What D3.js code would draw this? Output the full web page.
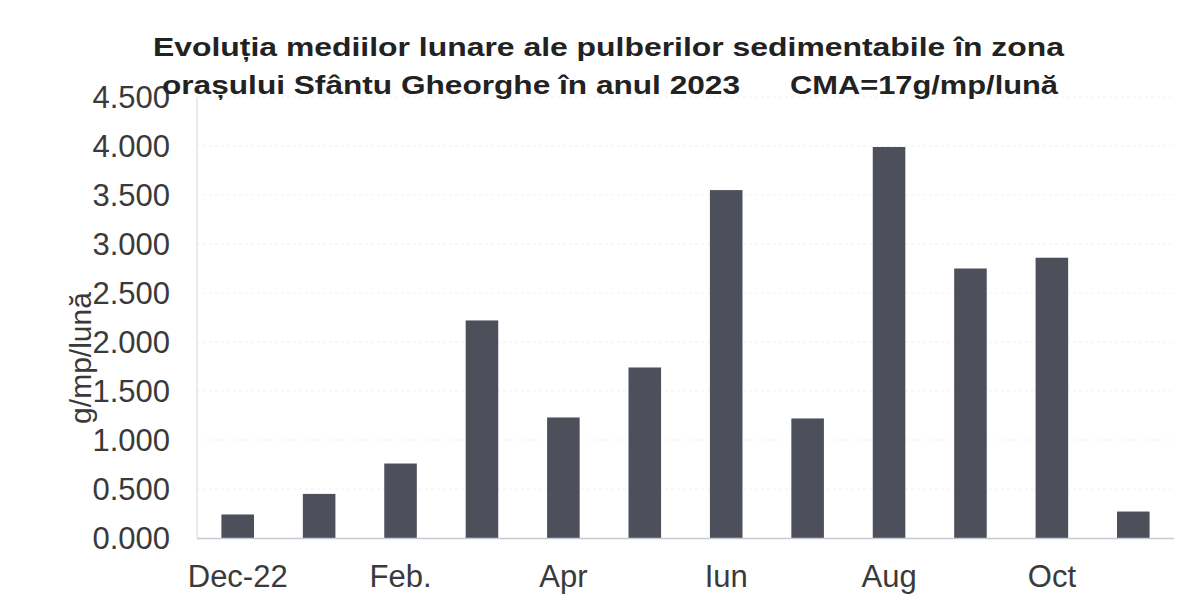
<!DOCTYPE html>
<html>
<head>
<meta charset="utf-8">
<script src="https://cdn.jsdelivr.net/npm/d3@7"></script>
<style>
  html, body { margin: 0; padding: 0; background: #fff; }
  svg { display: block; font-family: "Liberation Sans", Arial, sans-serif; }
</style>
</head>
<body>
<svg id="chart" width="1198" height="609"></svg>
<script>
// ---- data ----
const months = ["Dec-22", "Ian.", "Feb.", "Mar.", "Apr", "Mai", "Iun", "Iul", "Aug", "Sep.", "Oct", "Nov."];
const shownLabels = ["Dec-22", "Feb.", "Apr", "Iun", "Aug", "Oct"];
const values = [0.24, 0.45, 0.76, 2.22, 1.23, 1.74, 3.55, 1.22, 3.99, 2.75, 2.86, 0.27];
const yTicks = [0, 0.5, 1, 1.5, 2, 2.5, 3, 3.5, 4, 4.5];
const titleLine1 = "Evoluția mediilor lunare ale pulberilor sedimentabile în zona";
const titleLine2a = "orașului Sfântu Gheorghe în anul 2023";
const titleLine2b = "CMA=17g/mp/lună";
const yTitle = "g/mp/lună";

// ---- layout ----
const svg = d3.select("#chart");
const plotLeft = 197, plotRight = 1174, plotTop = 97, plotBottom = 538;
const barColor = "#4d505a";
const textColor = "#3a3a3a";

const x = d3.scaleBand().domain(months).range([plotLeft, plotRight]).paddingInner(0.6).paddingOuter(0.3);
const y = d3.scaleLinear().domain([0, 4.5]).range([plotBottom, plotTop]);

// gridlines (very faint)
svg.append("g").selectAll("line").data(yTicks.slice(1)).join("line")
  .attr("x1", plotLeft).attr("x2", plotRight)
  .attr("y1", d => y(d)).attr("y2", d => y(d))
  .attr("stroke", "#f1f1f4").attr("stroke-width", 1).attr("stroke-dasharray", "3,3");

// left axis line
svg.append("line").attr("x1", plotLeft).attr("x2", plotLeft).attr("y1", plotTop).attr("y2", plotBottom)
  .attr("stroke", "#d6d6d6").attr("stroke-width", 1);

// bars
svg.append("g").selectAll("rect").data(values).join("rect")
  .attr("x", (d, i) => x(months[i]))
  .attr("width", x.bandwidth())
  .attr("y", d => y(d))
  .attr("height", d => y(0) - y(d))
  .attr("fill", barColor);

// baseline
svg.append("line").attr("x1", plotLeft).attr("x2", plotRight).attr("y1", plotBottom + 0.5).attr("y2", plotBottom + 0.5)
  .attr("stroke", "#c9c9d6").attr("stroke-width", 1.5);

// y axis labels
const yAxis = d3.axisLeft(y).tickValues(yTicks).tickFormat(d3.format(".3f")).tickSize(0).tickPadding(27);
const gy = svg.append("g").attr("transform", `translate(${plotLeft},1)`).call(yAxis);
gy.select(".domain").remove();
gy.selectAll("text").attr("font-size", 31).attr("fill", textColor)
  .attr("font-family", "'Liberation Sans', Arial, sans-serif");

// x axis labels
const xAxis = d3.axisBottom(x).tickValues(shownLabels).tickSize(0).tickPadding(0);
const gx = svg.append("g").attr("transform", `translate(0,587)`).call(xAxis);
gx.select(".domain").remove();
gx.selectAll("text").attr("font-size", 31).attr("fill", textColor).attr("dy", 0)
  .attr("font-family", "'Liberation Sans', Arial, sans-serif");

// y title
svg.append("text")
  .attr("transform", "translate(91,358) rotate(-90)")
  .attr("text-anchor", "middle")
  .attr("font-size", 30).attr("fill", textColor)
  .text(yTitle);

// title
const tstyle = sel => sel.attr("font-size", 25).attr("font-weight", "bold").attr("fill", "#222")
  .attr("lengthAdjust", "spacingAndGlyphs");
svg.append("text").attr("x", 153).attr("y", 56).attr("textLength", 911).call(tstyle).text(titleLine1);
svg.append("text").attr("x", 162).attr("y", 94).attr("textLength", 578).call(tstyle).text(titleLine2a);
svg.append("text").attr("x", 790).attr("y", 94).attr("textLength", 268).call(tstyle).text(titleLine2b);
</script>
</body>
</html>
